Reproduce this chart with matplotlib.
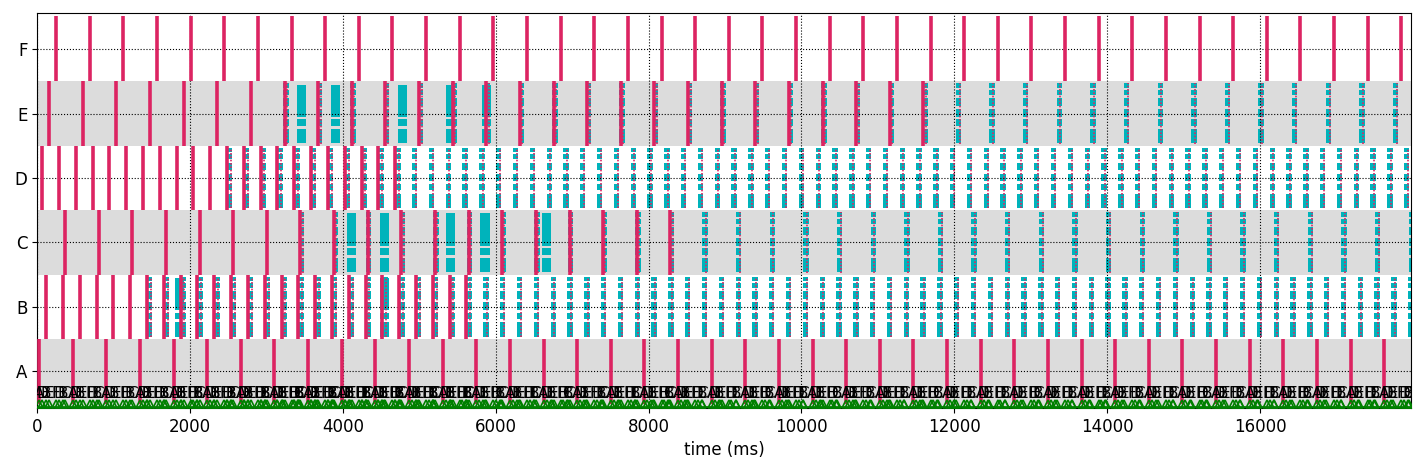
import matplotlib
matplotlib.use("Agg")
import matplotlib.pyplot as plt

rows = ['A', 'B', 'C', 'D', 'E', 'F']

# pink spike times (ms) per row
spikes = {
    'A': [26, 466, 906, 1346, 1786, 2226, 2666, 3106, 3546, 3986, 4426, 4866, 5306, 5746, 6186, 6626, 7066, 7506,
          7946, 8386, 8826, 9266, 9706, 10146, 10586, 11026, 11466, 11906, 12346, 12786, 13226, 13666, 14106,
          14546, 14986, 15426, 15866, 16306, 16746, 17186, 17626],
    'B': [118, 338, 558, 778, 998, 1218, 1438, 1658, 1878, 2098, 2318, 2538, 2758, 2978, 3198, 3418, 3638, 3858,
          4078, 4298, 4518, 4738, 4958, 5178, 5398, 5618],
    'C': [366, 806, 1246, 1686, 2126, 2566, 3006, 3446, 3886, 4326, 4766, 5206, 5646, 6086, 6526, 6966, 7406,
          7846, 8286],
    'D': [65, 285, 505, 725, 945, 1165, 1385, 1605, 1825, 2045, 2265, 2485, 2705, 2925, 3145, 3365, 3585, 3805,
          4025, 4245, 4465, 4685],
    'E': [157, 597, 1037, 1477, 1917, 2357, 2797, 3237, 3677, 4117, 4557, 4997, 5437, 5877, 6317, 6757, 7197,
          7637, 8077, 8517, 8957, 9397, 9837, 10277, 10717, 11157, 11597],
    'F': [250, 690, 1130, 1570, 2010, 2450, 2890, 3330, 3770, 4210, 4650, 5090, 5530, 5970, 6410, 6850, 7290,
          7730, 8170, 8610, 9050, 9490, 9930, 10370, 10810, 11250, 11690, 12130, 12570, 13010, 13450, 13890,
          14330, 14770, 15210, 15650, 16090, 16530, 16970, 17410, 17850],
}

# cyan (fragmented) events per row
cyan = {
    'B': [1438, 1658, 1878, 2098, 2318, 2538, 2758, 2978, 3198, 3418, 3638, 3858, 4078, 4298, 4518, 4738, 4958,
          5178, 5398, 5618, 5838, 6058, 6278, 6498, 6718, 6938, 7158, 7378, 7598, 7818, 8038, 8258, 8478, 8698,
          8918, 9138, 9358, 9578, 9798, 10018, 10238, 10458, 10678, 10898, 11118, 11338, 11558, 11778, 11998,
          12218, 12438, 12658, 12878, 13098, 13318, 13538, 13758, 13978, 14198, 14418, 14638, 14858, 15078,
          15298, 15518, 15738, 15958, 16178, 16398, 16618, 16838, 17058, 17278, 17498, 17718, 17938],
    'C': [3425, 3865, 4305, 4745, 5185, 5625, 6065, 6505, 6945, 7385, 7825, 8265, 8705, 9145, 9585, 10025,
          10465, 10905, 11345, 11785, 12225, 12665, 13105, 13545, 13985, 14425, 14865, 15305, 15745, 16185,
          16625, 17065, 17505, 17945],
    'D': [2485, 2705, 2925, 3145, 3365, 3585, 3805, 4025, 4245, 4465, 4685, 4905, 5125, 5345, 5565, 5785, 6005,
          6225, 6445, 6665, 6885, 7105, 7325, 7545, 7765, 7985, 8205, 8425, 8645, 8865, 9085, 9305, 9525, 9745,
          9965, 10185, 10405, 10625, 10845, 11065, 11285, 11505, 11725, 11945, 12165, 12385, 12605, 12825,
          13045, 13265, 13485, 13705, 13925, 14145, 14365, 14585, 14805, 15025, 15245, 15465, 15685, 15905,
          16125, 16345, 16565, 16785, 17005, 17225, 17445, 17665, 17885],
    'E': [3220, 3660, 4100, 4540, 4980, 5420, 5860, 6300, 6740, 7180, 7620, 8060, 8500, 8940, 9380, 9820,
          10260, 10700, 11140, 11580, 12020, 12460, 12900, 13340, 13780, 14220, 14660, 15100, 15540, 15980,
          16420, 16860, 17300, 17740],
}
# wide solid cyan blocks (start ms)
wide = {
    'C': [4050, 4480, 5350, 5800, 6600],
    'E': [3400, 3840, 4720, 5350, 5820],
    'B': [1800, 4480],
    'D': [],
}

PINK = '#dc2462'
CYAN = '#00b3bb'
GRAY = '#dcdcdc'
segs = [(0.04, 0.22), (0.31, 0.10), (0.45, 0.12), (0.62, 0.12), (0.79, 0.08), (0.90, 0.07)]

fig = plt.figure(figsize=(14.27, 4.68), dpi=100)
ax = fig.add_axes([0.026, 0.128, 0.963, 0.844])
ax.set_xlim(0, 17980)
ax.set_ylim(-0.57, 5.56)

ax.axhspan(-0.57, 0.5, color=GRAY, zorder=0, lw=0)
ax.axhspan(1.5, 2.5, color=GRAY, zorder=0, lw=0)
ax.axhspan(3.5, 4.5, color=GRAY, zorder=0, lw=0)

for i, r in enumerate(rows):
    for t in cyan.get(r, []):
        for s0, h in segs:
            ax.bar(t, h, width=70, bottom=i - 0.5 + s0, color=CYAN, align='edge', zorder=2, lw=0)
        ax.vlines(t + 50, i - 0.47, i + 0.47, color=PINK, lw=1.2, ls=(0, (1, 1)), zorder=3)
    for t in wide.get(r, []):
        for s0, h in segs[:2] + [(0.45, 0.5)]:
            ax.bar(t, h, width=120, bottom=i - 0.5 + s0, color=CYAN, align='edge', zorder=2, lw=0)
    top = i + 0.5 if r != 'F' else 5.52
    ax.vlines(spikes[r], i - 0.5, top, color=PINK, lw=2.6, zorder=4)

# event labels along the bottom
events = []
for i, r in enumerate(rows):
    for t in spikes[r] + cyan.get(r, []):
        events.append((t, r))
events.sort()
for t, r in events:
    ax.text(t, -0.34, r, ha='center', va='center', fontsize=11, zorder=5, clip_on=True)
ax.plot([t for t, _ in events], [-0.5] * len(events), ls='none', marker='^',
        ms=6, mfc='none', mec='green', mew=1.2, zorder=5)
ax.axhline(-0.56, color='green', lw=2, zorder=5)

ax.set_yticks(range(6))
ax.set_yticklabels(rows, fontsize=12)
ax.set_xticks(range(0, 18000, 2000))
ax.tick_params(axis='x', labelsize=12)
ax.grid(True, color='black', ls=':', lw=0.8, zorder=1)
ax.set_axisbelow(False)
ax.set_xlabel('time (ms)', fontsize=12)

fig.savefig('out.png', dpi=100)
